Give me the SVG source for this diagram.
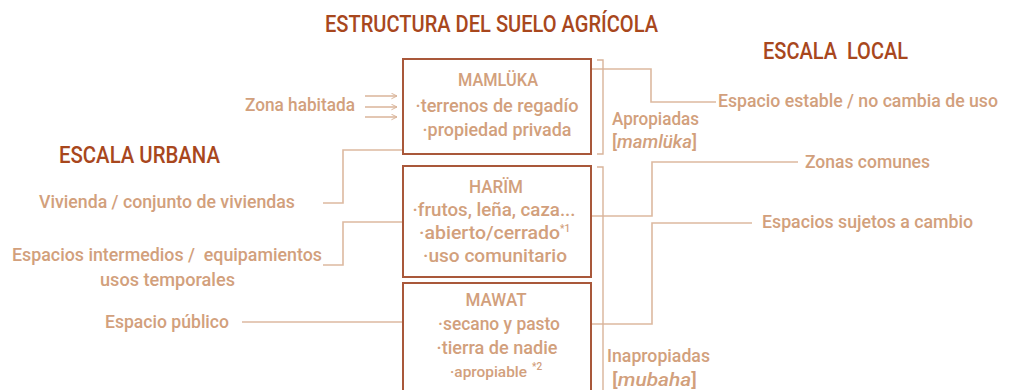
<svg xmlns="http://www.w3.org/2000/svg" width="1011" height="390" viewBox="0 0 1011 390">
<defs>
<style>
.t{font-family:Roboto,"Liberation Sans",sans-serif;font-size:18.5px;font-weight:500;fill:#d2a07c}
.c{text-anchor:middle}
.s{font-family:Roboto,"Liberation Sans",sans-serif;font-weight:500;fill:#d2a07c}
.h{font-family:Roboto,"Liberation Sans",sans-serif;font-size:23px;font-weight:500;fill:#a8471d}
.box{fill:#fff;stroke:#a9583a;stroke-width:2}
.ln{fill:none;stroke:#ddb9a0;stroke-width:1.6}
.br{fill:none;stroke:#d9b49a;stroke-width:1.4}
</style>
<marker id="ah" viewBox="0 0 10 10" refX="9" refY="5" markerWidth="7" markerHeight="7" orient="auto" markerUnits="userSpaceOnUse">
<path d="M1,1 L9,5 L1,9" fill="none" stroke="#d9b49a" stroke-width="1.4"/>
</marker>
</defs>
<rect width="1011" height="390" fill="#fff"/>

<g id="titles">
<text class="h" x="325" y="32" textLength="333" lengthAdjust="spacingAndGlyphs">ESTRUCTURA DEL SUELO AGRÍCOLA</text>
<text class="h" x="763" y="59" textLength="145" lengthAdjust="spacingAndGlyphs" xml:space="preserve">ESCALA  LOCAL</text>
<text class="h" x="59" y="163" textLength="161" lengthAdjust="spacingAndGlyphs">ESCALA URBANA</text>
</g>

<g id="connectors">
<line class="ln" x1="365" y1="96" x2="397" y2="96" marker-end="url(#ah)"/>
<line class="ln" x1="365" y1="107" x2="397" y2="107" marker-end="url(#ah)"/>
<line class="ln" x1="365" y1="117" x2="397" y2="117" marker-end="url(#ah)"/>
<polyline class="ln" points="323,203 343,203 343,150 403,150"/>
<polyline class="ln" points="323,265 343,265 343,222 403,222"/>
<line class="ln" x1="242" y1="322" x2="403" y2="322"/>
<polyline class="ln" points="591,69 651,69 651,102 716,102"/>
<polyline class="ln" points="591,216 652,216 652,162 798,162"/>
<polyline class="ln" points="591,324 652,324 652,223 752,223"/>
<polyline class="br" points="597,60 603,60 603,154 597,154"/>
<polyline class="br" points="597,167 603,167 603,390"/>
</g>

<g id="mamluka">
<rect class="box" x="403" y="59" width="188" height="95"/>
<text class="t c" x="498" y="86" textLength="80" lengthAdjust="spacingAndGlyphs">MAMLÜKA</text>
<text class="t c" x="497" y="112" textLength="163" lengthAdjust="spacingAndGlyphs">·terrenos de regadío</text>
<text class="t c" x="497" y="136" textLength="149" lengthAdjust="spacingAndGlyphs">·propiedad privada</text>
</g>

<g id="harim">
<rect class="box" x="403" y="166" width="188" height="111"/>
<text class="t c" x="496" y="193" textLength="54" lengthAdjust="spacingAndGlyphs">HARÏM</text>
<text class="t c" x="494" y="216" textLength="163" lengthAdjust="spacingAndGlyphs">·frutos, leña, caza...</text>
<text class="t" x="419" y="239" textLength="141" lengthAdjust="spacingAndGlyphs">·abierto/cerrado</text>
<text class="s" x="560" y="232" font-size="10">*1</text>
<text class="t c" x="495" y="262" textLength="144" lengthAdjust="spacingAndGlyphs">·uso comunitario</text>
</g>

<g id="mawat">
<rect class="box" x="403" y="283" width="188" height="120"/>
<text class="t c" x="496" y="306" textLength="61" lengthAdjust="spacingAndGlyphs">MAWAT</text>
<text class="t c" x="499" y="330" textLength="122" lengthAdjust="spacingAndGlyphs">·secano y pasto</text>
<text class="t c" x="497" y="354" textLength="121" lengthAdjust="spacingAndGlyphs">·tierra de nadie</text>
<text class="s" x="450" y="377" font-size="14" textLength="77" lengthAdjust="spacingAndGlyphs">·apropiable</text>
<text class="s" x="532" y="370" font-size="10">*2</text>
</g>

<g id="left-labels">
<text class="t" x="245" y="111" textLength="110" lengthAdjust="spacingAndGlyphs">Zona habitada</text>
<text class="t" x="39" y="208" textLength="256" lengthAdjust="spacingAndGlyphs">Vivienda / conjunto de viviendas</text>
<text class="t" x="12" y="261" textLength="310" lengthAdjust="spacingAndGlyphs" xml:space="preserve">Espacios intermedios /  equipamientos</text>
<text class="t" x="100" y="286" textLength="135" lengthAdjust="spacingAndGlyphs">usos temporales</text>
<text class="t" x="105" y="328" textLength="124" lengthAdjust="spacingAndGlyphs">Espacio público</text>
</g>

<g id="right-labels">
<text class="t" x="612" y="125" textLength="87" lengthAdjust="spacingAndGlyphs">Apropiadas</text>
<text class="t" x="612" y="148" textLength="85" lengthAdjust="spacingAndGlyphs">[<tspan font-style="italic">mamlüka</tspan>]</text>
<text class="t" x="718" y="107" textLength="280" lengthAdjust="spacingAndGlyphs">Espacio estable / no cambia de uso</text>
<text class="t" x="805" y="168" textLength="125" lengthAdjust="spacingAndGlyphs">Zonas comunes</text>
<text class="t" x="762" y="228" textLength="211" lengthAdjust="spacingAndGlyphs">Espacios sujetos a cambio</text>
<text class="t" x="607" y="362" textLength="103" lengthAdjust="spacingAndGlyphs">Inapropiadas</text>
<text class="t" x="612" y="386" textLength="85" lengthAdjust="spacingAndGlyphs">[<tspan font-style="italic">mubaha</tspan>]</text>
</g>
</svg>
